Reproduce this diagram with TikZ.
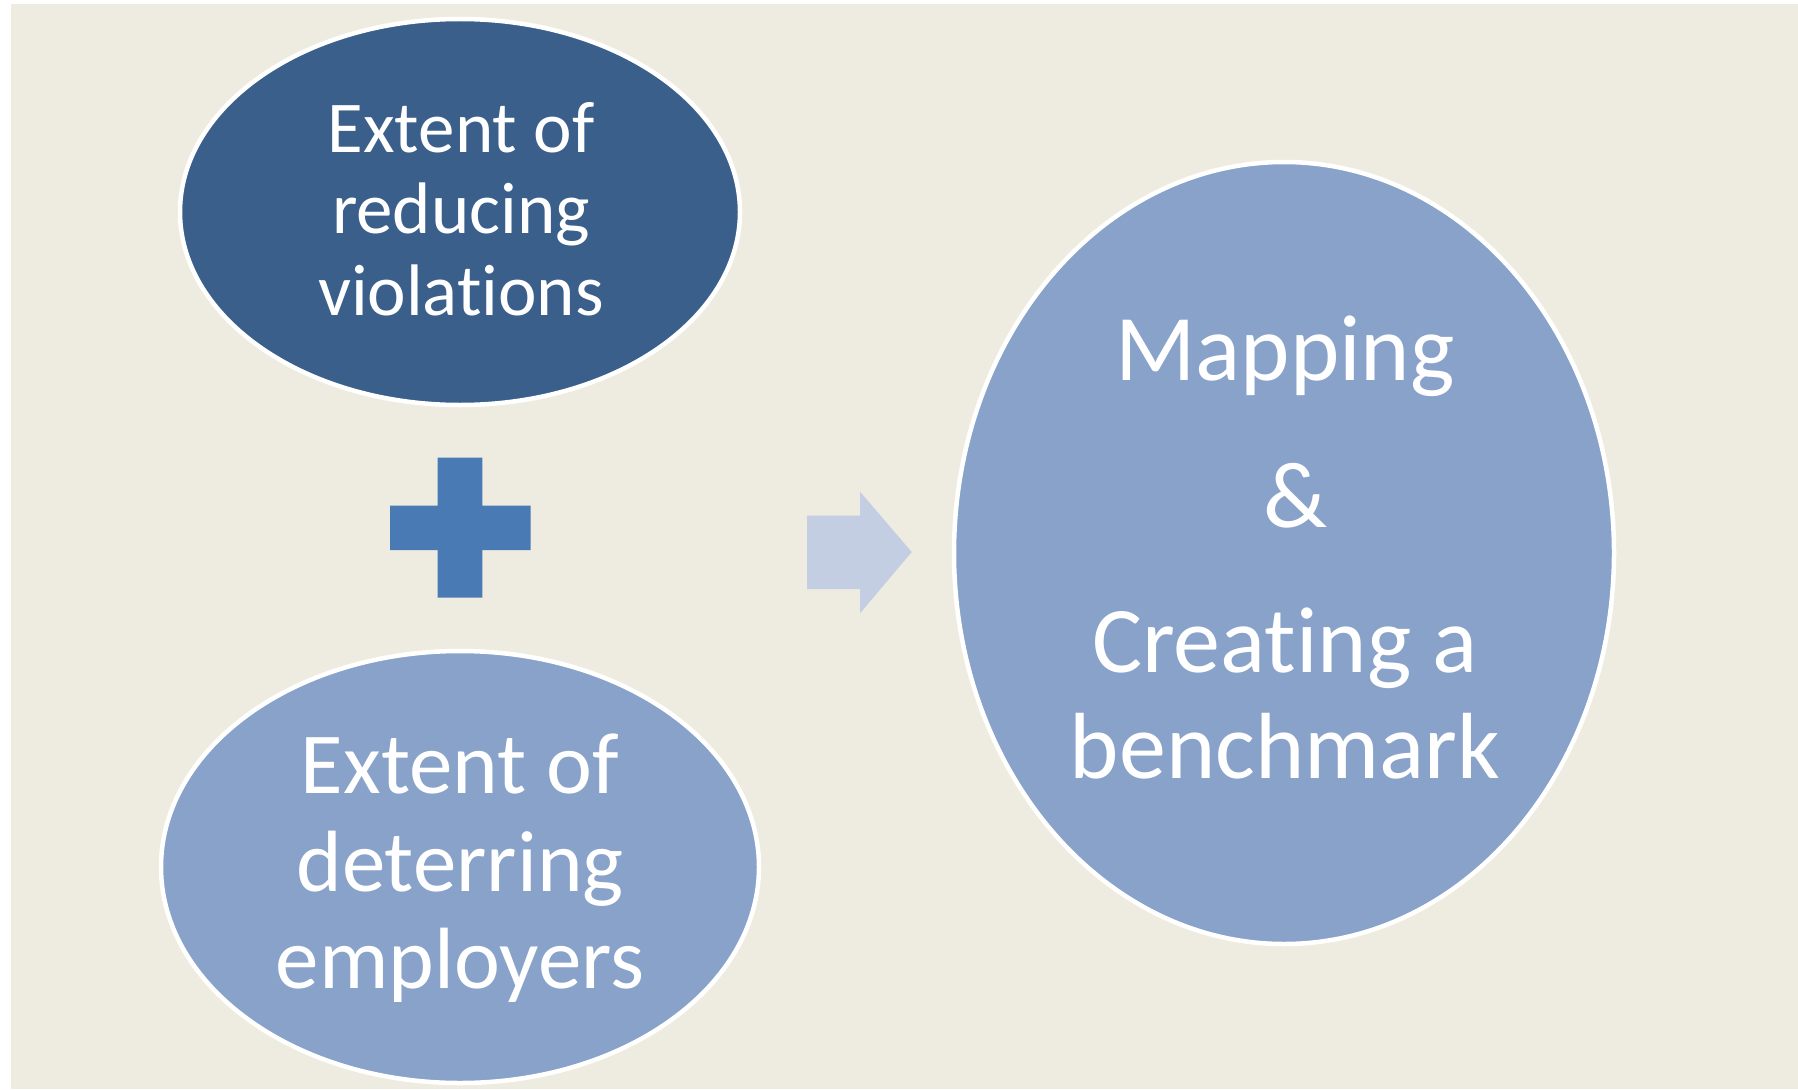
\documentclass[tikz,border=0pt]{standalone}
\usepackage{fontspec}
\setmainfont{Carlito}[Ligatures={NoCommon,NoRequired,NoContextual,NoDiscretionary}]
\usetikzlibrary{shapes.geometric}
\definecolor{bgc}{RGB}{238,235,224}
\definecolor{darkblue}{RGB}{58,95,139}
\definecolor{midblue}{RGB}{136,162,201}
\definecolor{crossblue}{RGB}{74,122,180}
\definecolor{arrowblue}{RGB}{195,206,226}
\tikzset{
  blob/.style={ellipse, draw=white, line width=4.5pt, inner sep=0pt},
  lbl/.style={text=white, anchor=base, inner sep=0pt},
  fsA/.style={font=\fontsize{73}{73}\selectfont},
  fsB/.style={font=\fontsize{87}{87}\selectfont},
  fsC/.style={font=\fontsize{94}{94}\selectfont},
}
\begin{document}
\begin{tikzpicture}[x=1pt,y=-1pt]
\useasboundingbox (0,0) rectangle (1798,1089);
\fill[white] (0,0) rectangle (1798,1089);
\fill[bgc] (11,4) rectangle (1798,1089);

% ellipses
\node[blob, fill=darkblue, minimum width=560pt, minimum height=386pt] (reduce) at (460,212) {};
\node[blob, fill=midblue, minimum width=598pt, minimum height=432pt] (deter) at (460,867) {};
\node[blob, fill=midblue, minimum width=660pt, minimum height=782pt] (map) at (1284,553) {};

% texts
\node[lbl, fsA] (r1) at (461,152.5) {Extent of};
\node[lbl, fsA] (r2) at (461,233) {reducing};
\node[lbl, fsA] (r3) at (461,315) {violations};

\node[lbl, fsB] (d1) at (460,793.5) {Extent of};
\node[lbl, fsB] (d2) at (460,891) {deterring};
\node[lbl, fsB] (d3) at (460,988.5) {employers};

\node[lbl, fsC] (m1) at (1285,380.7) {Mapping};
\node[lbl, fsC] (m2) at (1296,527.5) {\&};
\node[lbl, fsC] (m3) at (1285,672) {Creating a};
\node[lbl, fsC] (m4) at (1285,778.6) {benchmark};

% plus sign
\fill[crossblue] (437.7,457.7) -- (482.3,457.7) -- (482.3,505.7) -- (530.5,505.7)
  -- (530.5,550) -- (482.3,550) -- (482.3,597.7) -- (437.7,597.7) -- (437.7,550)
  -- (390,550) -- (390,505.7) -- (437.7,505.7) -- cycle;

% block arrow
\fill[arrowblue] (807,515.7) -- (860,515.7) -- (860,491.7) -- (911.7,552)
  -- (860,613.3) -- (860,589) -- (807,589) -- cycle;
\end{tikzpicture}
\end{document}
